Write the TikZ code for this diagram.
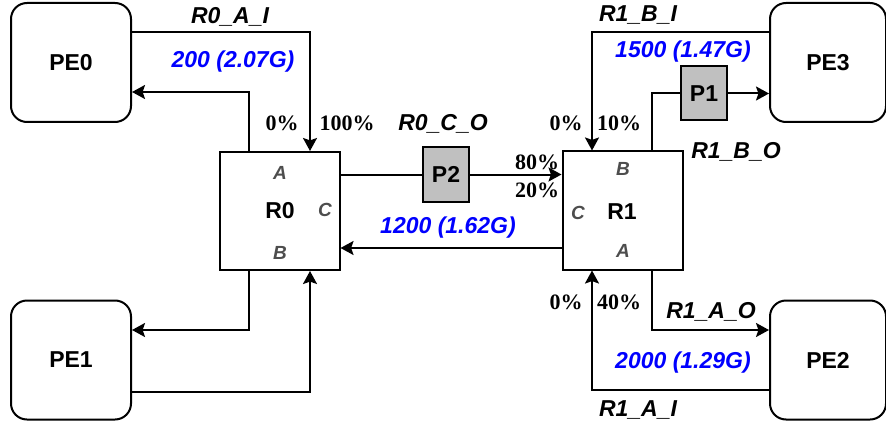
\documentclass[tikz,border=0pt]{standalone}
\usepackage{fontspec}
\newfontfamily\arialfont{Liberation Sans}
\newfontfamily\timesfont{Liberation Serif}
\usetikzlibrary{arrows.meta,calc}
\definecolor{portgray}{HTML}{4D4D4D}
\definecolor{pfill}{HTML}{C0C0C0}
\definecolor{rateblue}{HTML}{0000FF}

\begin{document}
\begin{tikzpicture}[x=0.5pt,y=-0.5pt,line width=1pt,
    pe/.style={draw,rounded corners=8pt,minimum width=60pt,minimum height=59.5pt,
               font=\arialfont\bfseries\fontsize{11.5}{12}\selectfont},
    router/.style={draw,minimum width=60pt,minimum height=59pt},
    pbox/.style={draw,fill=pfill,minimum width=23pt,minimum height=27pt,inner sep=0pt,
                 font=\arialfont\bfseries\fontsize{11.5}{12}\selectfont},
    flow/.style={-{Stealth[length=6.5pt,width=7pt,inset=1.2pt]}},
    linkname/.style={font=\arialfont\bfseries\itshape\fontsize{11.5}{12}\selectfont},
    rate/.style={text=rateblue,font=\arialfont\bfseries\itshape\fontsize{11.5}{12}\selectfont},
    port/.style={text=portgray,font=\arialfont\bfseries\itshape\fontsize{9.5}{10}\selectfont},
    rname/.style={font=\arialfont\bfseries\fontsize{11.5}{12}\selectfont},
    pct/.style={font=\timesfont\bfseries\fontsize{11}{12}\selectfont}]
  \useasboundingbox (0,0) rectangle (886,427);

  % end points
  \node[pe] (pe0) at (71,62.5) {PE0};
  \node[pe] (pe1) at (71,360) {PE1};
  \node[pe,minimum width=58pt] (pe3) at (828,62.5) {PE3};
  \node[pe,minimum width=58pt] (pe2) at (828,360) {PE2};

  % routers
  \node[router] (r0) at (279.5,211) {};
  \node[router] (r1) at (622.5,210.5) {};
  \node[rname] (r0lbl) at (280,211) {R0};
  \node[port] (r0a) at (280,173) {A};
  \node[port] (r0c) at (325,210) {C};
  \node[port] (r0b) at (280,253) {B};
  \node[rname] (r1lbl) at (622,212) {R1};
  \node[port] (r1b) at (623,169) {B};
  \node[port] (r1c) at (578,213) {C};
  \node[port] (r1a) at (623,251) {A};

  % pipes
  \node[pbox] (p2) at (446,174.5) {P2};
  \node[pbox] (p1) at (704,93.5) {P1};

  % R0 links
  \draw[flow] ($(pe0.east)+(0,-30.5)$) -| ($(r0.north)+(30.5,0)$);
  \draw[flow] ($(r0.north)+(-30.5,0)$) |- ($(pe0.east)+(0,29.5)$);
  \draw[flow] ($(r0.south)+(-30.5,0)$) |- ($(pe1.east)+(0,-30)$);
  \draw[flow] ($(pe1.east)+(0,32)$) -| ($(r0.south)+(30.5,0)$);
  \draw (r0.east |- p2.west) -- (p2.west);
  \draw[flow] (p2.east) -- (p2.east -| r1.west);
  \draw[flow] ($(r1.west)+(0,37.5)$) -- ($(r0.east)+(0,37)$);

  % R1 links
  \draw[flow] ($(pe3.west)+(0,-30.5)$) -| ($(r1.north)+(-30.5,0)$);
  \draw ($(r1.north)+(29.5,0)$) |- (p1.west);
  \draw[flow] (p1.east) -- (p1.east -| pe3.west);
  \draw[flow] ($(r1.south)+(29.5,0)$) |- ($(pe2.west)+(0,-30)$);
  \draw[flow] ($(pe2.west)+(0,30)$) -| ($(r1.south)+(-30.5,0)$);

  % labels
  \node[linkname] (l0ai) at (230,17) {R0\_A\_I};
  \node[rate] (t0ai) at (233,62) {200 (2.07G)};
  \node[pct] (c0a) at (282,123) {0\%};
  \node[pct] (c0b) at (347,123) {100\%};
  \node[linkname] (l0co) at (443,124) {R0\_C\_O};
  \node[pct] (c80) at (537,162) {80\%};
  \node[pct] (c20) at (537,190) {20\%};
  \node[rate] (t0co) at (448,228) {1200 (1.62G)};
  \node[linkname] (l1bi) at (638,15) {R1\_B\_I};
  \node[rate] (t1bi) at (683,52) {1500 (1.47G)};
  \node[pct] (c1a) at (566,123) {0\%};
  \node[pct] (c1b) at (619,123) {10\%};
  \node[linkname] (l1bo) at (736,152) {R1\_B\_O};
  \node[pct] (c1c) at (566,302) {0\%};
  \node[pct] (c1d) at (619,302) {40\%};
  \node[linkname] (l1ao) at (711,312) {R1\_A\_O};
  \node[rate] (t1ai) at (683,363) {2000 (1.29G)};
  \node[linkname] (l1ai) at (638,410) {R1\_A\_I};
\end{tikzpicture}
\end{document}
